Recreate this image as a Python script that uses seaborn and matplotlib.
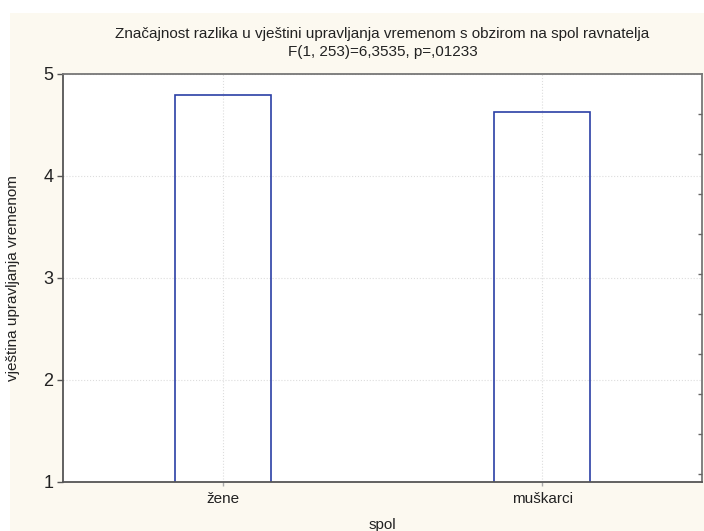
import numpy as np
import pandas as pd
import matplotlib
matplotlib.use("Agg")
import matplotlib.pyplot as plt
import seaborn as sns
from matplotlib.patches import Rectangle

# data
spol = ["žene", "muškarci"]
vjestina = [4.79, 4.625]

title = "Značajnost razlika u vještini upravljanja vremenom s obzirom na spol ravnatelja\nF(1, 253)=6,3535, p=,01233"

sns.set_style("white")
plt.rcParams['font.family'] = ['Liberation Sans', 'DejaVu Sans']

df = pd.DataFrame({"spol": spol, "vjestina": vjestina})

fig = plt.figure(figsize=(7.04, 5.31), dpi=100, facecolor="white")
# cream panel behind the chart
fig.patches.append(Rectangle((10/704, 0), 1, 1 - 13/531, transform=fig.transFigure,
                             facecolor="#FCF9F0", edgecolor="none", zorder=-1))
ax = fig.add_axes([63/704, 49/531, 639/704, 408/531])
ax.set_facecolor("white")

sns.barplot(data=df, x="spol", y="vjestina", ax=ax, width=0.3,
            fill=False, edgecolor="#2B3FA6", linewidth=1.2, errorbar=None)

ax.set_ylim(1, 5)
ax.set_xlim(-0.5, 1.5)
ax.set_yticks([1, 2, 3, 4, 5])
ax.grid(True, color="#dddddd", linestyle=":", linewidth=0.8)
ax.set_axisbelow(True)

for s in ["left", "bottom"]:
    ax.spines[s].set_color("#555555")
    ax.spines[s].set_linewidth(1.3)
for s in ["top", "right"]:
    ax.spines[s].set_color("#777777")
    ax.spines[s].set_linewidth(1.3)

ax.tick_params(axis="y", left=True, length=4, width=1, color="#555555",
               labelsize=13, labelcolor="#222222", pad=3)
ax.tick_params(axis="x", bottom=True, length=3, width=1, color="#aaaaaa",
               labelsize=11, labelcolor="#222222", pad=4)

ax.set_xlabel("spol", fontsize=11, color="#222222", labelpad=9)
ax.set_ylabel("vještina upravljanja vremenom", fontsize=11, color="#222222", labelpad=17)
ax.set_title(title, fontsize=11, color="#222222", pad=13, linespacing=1.35)

# right-hand tick marks
ax2 = ax.twinx()
ax2.set_ylim(10.2, 0)
ax2.set_yticks(range(1, 11))
ax2.set_yticklabels([])
ax2.tick_params(axis="y", right=True, direction="in", length=3, width=1, color="#666666")
for s in ax2.spines.values():
    s.set_visible(False)

fig.savefig("out.png", dpi=100, facecolor=fig.get_facecolor())
